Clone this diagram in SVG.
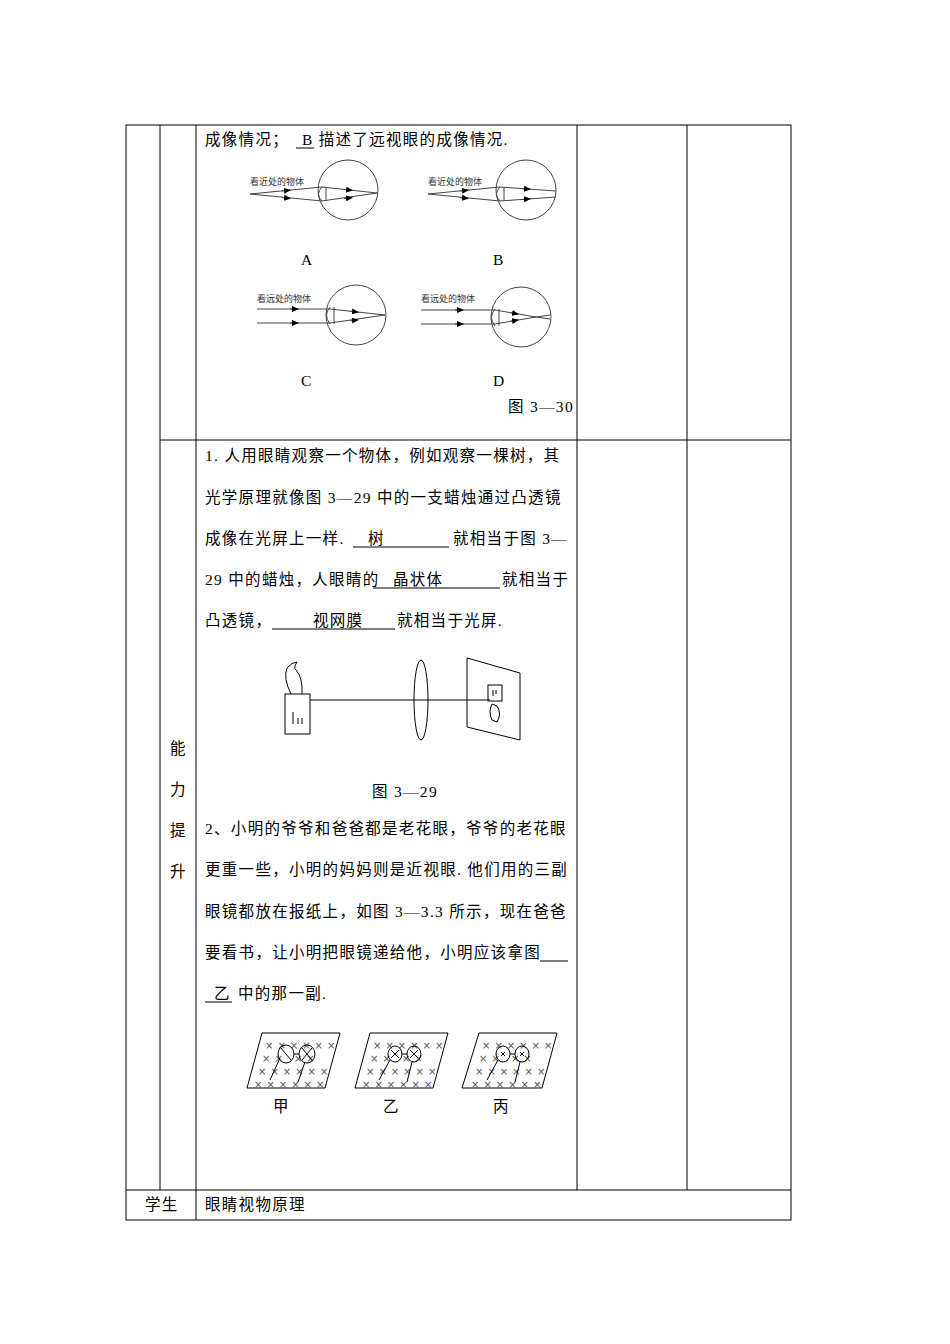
<svg xmlns="http://www.w3.org/2000/svg" width="950" height="1344" viewBox="0 0 950 1344" xml:space="preserve">
<style>
.t{font-family:"Liberation Serif","Noto Sans CJK SC",serif;font-size:15.5px;letter-spacing:1.3px;fill:#000}
.s{font-family:"Noto Sans CJK SC",sans-serif;font-size:9px;fill:#333}
.l{stroke:#000;stroke-width:1;fill:none}
.g{stroke:#444;stroke-width:1;fill:none}
.x{font-family:"DejaVu Sans",sans-serif;font-size:10px;fill:#555;letter-spacing:4px}
.ar{stroke:#444;stroke-width:1;fill:none;marker-end:url(#a)}
</style>
<defs><marker id="a" markerWidth="7" markerHeight="6" refX="6" refY="3" orient="auto" markerUnits="userSpaceOnUse"><path d="M0,0L7,3L0,6z" fill="#000"/></marker></defs>
<rect width="950" height="1344" fill="#fff"/>
<g id="table" class="l">
<rect x="126" y="125" width="665" height="1095"/>
<line x1="160" y1="125" x2="160" y2="1190"/>
<line x1="196" y1="125" x2="196" y2="1220"/>
<line x1="577" y1="125" x2="577" y2="1190"/>
<line x1="687" y1="125" x2="687" y2="1190"/>
<line x1="160" y1="440" x2="791" y2="440"/>
<line x1="126" y1="1190" x2="791" y2="1190"/>
</g>
<g id="text1">
<text class="t" x="205" y="145">成像情况；</text>
<text class="t" x="302" y="145">B 描述了远视眼的成像情况.</text>
<line class="l" x1="296" y1="148" x2="314" y2="148"/>
</g>
<g id="eyes">
<g id="eyeA">
<text class="s" x="250" y="185">看近处的物体</text>
<circle class="g" cx="348" cy="190" r="30"/>
<path class="g" d="M322,187 Q315,194 322,201 M326,187 V201"/>
<path class="g" d="M250,194 L322,187 L377,193 M250,194 L322,201 L377,193"/>
<path class="ar" d="M282,191 L290,190.2"/><path class="ar" d="M282,197.6 L290,198.4"/>
<path class="ar" d="M344,189.4 L352,190.3"/><path class="ar" d="M344,198.6 L352,197.7"/>
</g>
<g id="eyeB">
<text class="s" x="428" y="185">看近处的物体</text>
<circle class="g" cx="526" cy="190" r="30"/>
<path class="g" d="M500,187 Q493,194 500,201 M504,187 V201"/>
<path class="g" d="M428,194 L500,187 L556,191 M428,194 L500,201 L556,197"/>
<path class="ar" d="M460,191 L468,190.2"/><path class="ar" d="M460,197.6 L468,198.4"/>
<path class="ar" d="M522,188.6 L530,189.2"/><path class="ar" d="M522,199.4 L530,198.8"/>
</g>
<g id="eyeC">
<text class="s" x="257" y="302">看远处的物体</text>
<circle class="g" cx="356" cy="315" r="30"/>
<path class="g" d="M330,307 Q323,315 330,324 M334,307 V324"/>
<path class="g" d="M257,309 L330,309 L385,315 M257,323 L330,323 L385,315"/>
<path class="ar" d="M290,309 L298,309"/><path class="ar" d="M290,323 L298,323"/>
<path class="ar" d="M350,311.2 L358,312.1"/><path class="ar" d="M350,320.8 L358,319.9"/>
</g>
<g id="eyeD">
<text class="s" x="421" y="302">看远处的物体</text>
<circle class="g" cx="521" cy="317" r="30"/>
<path class="g" d="M495,309 Q488,317 495,326 M499,309 V326"/>
<path class="g" d="M421,310 L495,310 L530,316 L550,319 M421,324 L495,324 L530,318 L550,315"/>
<path class="ar" d="M455,310 L463,310"/><path class="ar" d="M455,324 L463,324"/>
<path class="ar" d="M510,312.6 L518,314"/><path class="ar" d="M510,321.4 L518,320"/>
</g>
<text class="t" x="301" y="265">A</text>
<text class="t" x="493" y="265">B</text>
<text class="t" x="301" y="386">C</text>
<text class="t" x="493" y="386">D</text>
<text class="t" x="508" y="412">图 3—30</text>
</g>
<g id="q1">
<text class="t" x="205" y="461">1. 人用眼睛观察一个物体，例如观察一棵树，其</text>
<text class="t" x="205" y="503">光学原理就像图 3—29 中的一支蜡烛通过凸透镜</text>
<text class="t" x="205" y="544">成像在光屏上一样.</text><text class="t" x="368" y="544">树</text><text class="t" x="453" y="544">就相当于图 3—</text>
<line class="l" x1="353" y1="547" x2="449" y2="547"/>
<text class="t" x="205" y="585">29 中的蜡烛，人眼睛的</text><text class="t" x="393" y="585">晶状体</text><text class="t" x="502" y="585">就相当于</text>
<line class="l" x1="373" y1="588" x2="500" y2="588"/>
<text class="t" x="205" y="626">凸透镜，</text><text class="t" x="313" y="626">视网膜</text><text class="t" x="397" y="626">就相当于光屏.</text>
<line class="l" x1="272" y1="629" x2="395" y2="629"/>
</g>
<g id="fig329" class="l">
<rect x="285" y="694" width="25" height="40"/>
<path d="M293,724 V712 M298,724 V718 M302,724 V718"/>
<path d="M291,694 Q283,678 287,668 Q292,662 297,662 Q293,668 296,670 Q303,678 302,694"/>
<line x1="310" y1="700" x2="490" y2="700"/>
<ellipse cx="421" cy="700" rx="7" ry="40"/>
<path d="M467,658 L520,673 L520,740 L467,727 Z"/>
<rect x="488" y="685" width="14" height="16"/>
<path d="M493,690 V696 M496,690 V694"/>
<path d="M492,704 Q488,712 492,720 L497,722 Q502,714 497,706 Z"/>
</g>
<text class="t" x="372" y="797">图 3—29</text>
<g id="q2">
<text class="t" x="205" y="834">2、小明的爷爷和爸爸都是老花眼，爷爷的老花眼</text>
<text class="t" x="205" y="875">更重一些，小明的妈妈则是近视眼. 他们用的三副</text>
<text class="t" x="205" y="917">眼镜都放在报纸上，如图 3—3.3 所示，现在爸爸</text>
<text class="t" x="205" y="958">要看书，让小明把眼镜递给他，小明应该拿图</text>
<line class="l" x1="540" y1="961" x2="568" y2="961"/>
<text class="t" x="214" y="999">乙</text><text class="t" x="238" y="999">中的那一副.</text>
<line class="l" x1="205" y1="1002" x2="232" y2="1002"/>
</g>
<g id="glasses">
<g id="jia">
<path class="l" d="M262,1033 L340,1033 L325,1088 L247,1088 Z"/>
<text class="x" x="265" y="1049">××××××</text>
<text class="x" x="262" y="1062">××    ××</text>
<text class="x" x="258" y="1075">××××××</text>
<text class="x" x="254" y="1088">××××××</text>
<ellipse class="l" cx="286" cy="1054" rx="8" ry="9" fill="#fff"/><ellipse class="l" cx="307" cy="1054" rx="8" ry="9" fill="#fff"/>
<path class="l" d="M281,1048 L291,1060 M302,1048 L312,1060 M312,1048 L302,1060 M294,1054 H299"/>
<path class="l" d="M280,1058 L270,1080 M305,1062 L298,1082"/>
</g>
<g id="yi">
<path class="l" d="M370,1033 L448,1033 L433,1088 L355,1088 Z"/>
<text class="x" x="373" y="1049">××××××</text>
<text class="x" x="370" y="1062">××    ××</text>
<text class="x" x="366" y="1075">××××××</text>
<text class="x" x="362" y="1088">××××××</text>
<ellipse class="l" cx="395" cy="1054" rx="7" ry="8" fill="#fff"/><ellipse class="l" cx="414" cy="1054" rx="7" ry="8" fill="#fff"/>
<path class="l" d="M391,1050 L399,1058 M399,1050 L391,1058 M410,1050 L418,1058 M418,1050 L410,1058 M402,1054 H407"/>
<path class="l" d="M390,1060 L379,1080 M412,1062 L407,1082"/>
</g>
<g id="bing">
<path class="l" d="M479,1033 L557,1033 L542,1088 L462,1088 Z"/>
<text class="x" x="482" y="1049">××××××</text>
<text class="x" x="479" y="1062">××    ××</text>
<text class="x" x="475" y="1075">××××××</text>
<text class="x" x="471" y="1088">××××××</text>
<ellipse class="l" cx="503" cy="1054" rx="7" ry="8" fill="#fff"/><ellipse class="l" cx="522" cy="1054" rx="7" ry="8" fill="#fff"/>
<path class="l" d="M501,1052 L505,1056 M505,1052 L501,1056 M520,1052 L524,1056 M524,1052 L520,1056 M510,1054 H515"/>
<path class="l" d="M498,1060 L487,1080 M520,1062 L515,1082"/>
</g>
<text class="t" x="273" y="1112">甲</text>
<text class="t" x="383" y="1112">乙</text>
<text class="t" x="493" y="1112">丙</text>
</g>
<g id="side">
<text class="t" x="170" y="754">能</text>
<text class="t" x="170" y="795">力</text>
<text class="t" x="170" y="836">提</text>
<text class="t" x="170" y="877">升</text>
<text class="t" x="145" y="1210">学生</text>
<text class="t" x="205" y="1210">眼睛视物原理</text>
</g>
</svg>
